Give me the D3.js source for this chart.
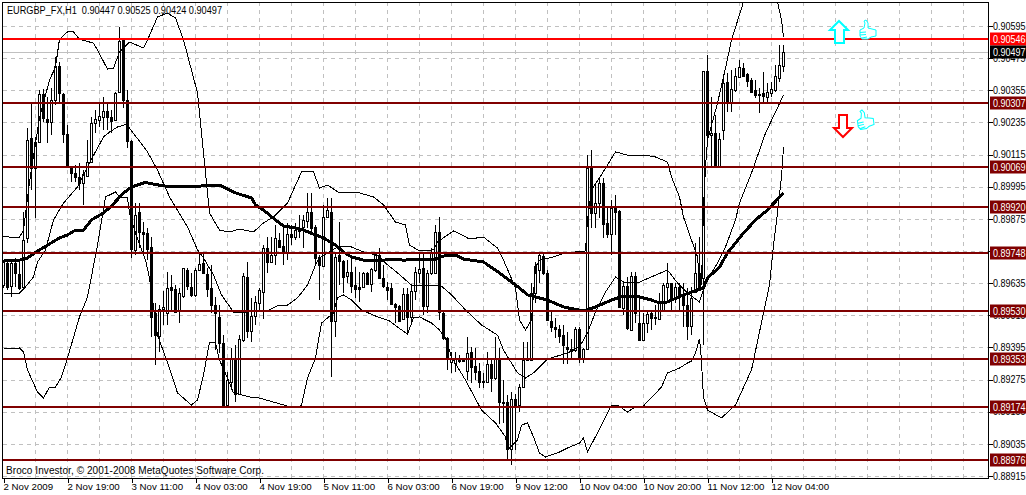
<!DOCTYPE html>
<html><head><meta charset="utf-8">
<script src="https://cdn.jsdelivr.net/npm/d3@7"></script>
<style>
html,body{margin:0;padding:0;background:#fff;overflow:hidden}
svg{display:block}
text{font-family:"Liberation Sans",Arial,sans-serif;font-size:10px;fill:#000}
</style></head><body>
<svg id="c" width="1026" height="495"></svg>
<script>
// Prices are in points (1 point = 0.00001)
const title = "EURGBP_FX,H1  0.90447 0.90525 0.90424 0.90497";
const credit = "Broco Investor, © 2001-2008 MetaQuotes Software Corp.";
const timeLabels = ["2 Nov 2009","2 Nov 19:00","3 Nov 11:00","4 Nov 03:00","4 Nov 19:00","5 Nov 11:00","6 Nov 03:00","6 Nov 19:00","9 Nov 12:00","10 Nov 04:00","10 Nov 20:00","11 Nov 12:00","12 Nov 04:00"];
const priceTicks = [90595,90475,90355,90235,90115,89995,89875,89755,89635,89515,89395,89275,89155,89035,88915];
const redLevel = [90546];
const darkLevels = [90307,90069,89920,89748,89530,89353,89174,88976];
const bidLevel = [90497];

const open = [89628,89710,89624,89710,89669,89621,89804,90177,90065,90162,
90341,90248,90237,90319,90446,90341,90192,90069,90046,90031,
90009,90035,90087,90233,90244,90255,90278,90255,90244,90349,
90543,90319,90166,89759,89901,89826,89822,89770,89524,89438,
89539,89524,89621,89613,89535,89587,89684,89621,89591,89684,
89710,89669,89617,89553,89509,89412,89180,89266,89356,89221,
89423,89658,89456,89512,89561,89602,89766,89714,89740,89796,
89774,89751,89818,89807,89841,89845,89867,89901,89845,89733,
89699,89882,89901,89494,89740,89718,89662,89677,89628,89621,
89621,89673,89632,89684,89740,89654,89621,89617,89557,89550,
89501,89595,89509,89606,89673,89692,89550,89673,89673,89826,
89524,89430,89341,89337,89352,89344,89307,89378,89326,89307,
89270,89266,89333,89281,89352,89188,89191,89016,89203,89180,
89247,89352,89348,89598,89684,89736,89673,89494,89471,89464,
89441,89397,89389,89385,89464,89356,89389,90065,89897,89934,
90009,89860,89818,89916,89904,89542,89624,89460,89662,89486,
89423,89486,89524,89509,89501,89531,89621,89636,89576,89621,
89595,89553,89475,89602,89673,89654,90427,90188,90196,90069,
90207,90386,90311,90356,90405,90438,90416,90393,90356,90341,
90345,90330,90345,90356,90401,90447];
const high = [89721,89718,89721,89729,89714,89901,90214,90307,90181,90356,
90360,90330,90364,90479,90461,90345,90225,90069,90076,90084,
90057,90169,90255,90281,90304,90330,90307,90281,90349,90591,
90546,90356,90169,89934,89934,89863,89841,89807,89561,89553,
89606,89677,89665,89628,89617,89692,89692,89673,89692,89748,
89748,89692,89703,89583,89553,89441,89303,89393,89404,89441,
89673,89714,89580,89587,89617,89777,89807,89807,89852,89822,
89852,89860,89852,89860,89889,89889,89972,89972,89852,89740,
89927,89953,89953,89748,89863,89721,89721,89729,89695,89677,
89677,89677,89692,89748,89766,89703,89639,89636,89561,89553,
89617,89617,89628,89695,89751,89748,89684,89766,89852,89882,
89527,89434,89378,89378,89367,89356,89434,89397,89393,89337,
89300,89378,89348,89434,89393,89273,89217,89229,89221,89258,
89415,89415,89636,89714,89748,89744,89684,89531,89505,89479,
89479,89453,89427,89471,89471,89393,90113,90132,90009,90028,
90028,89923,89945,89964,89908,89639,89658,89677,89677,89580,
89524,89535,89527,89553,89598,89636,89710,89636,89636,89636,
89636,89617,89621,89785,89807,90427,90487,90330,90263,90196,
90401,90420,90431,90438,90468,90457,90420,90401,90393,90364,
90423,90382,90386,90449,90524,90525];
const low = [89617,89610,89583,89621,89610,89610,89785,89983,89878,90158,
90237,90158,90188,90300,90307,90158,90065,90013,90013,89983,
89927,90031,90084,90195,90218,90207,90207,90195,90244,90345,
90289,90140,89729,89740,89766,89748,89721,89434,89329,89378,
89479,89479,89535,89527,89486,89580,89610,89583,89583,89684,
89673,89583,89524,89385,89374,89176,89176,89236,89191,89217,
89415,89430,89415,89479,89527,89501,89673,89710,89703,89766,
89703,89721,89777,89796,89804,89766,89841,89815,89703,89572,
89695,89878,89285,89434,89628,89598,89636,89598,89580,89565,
89617,89628,89602,89677,89654,89617,89572,89553,89486,89490,
89497,89449,89479,89572,89636,89516,89524,89665,89673,89497,
89423,89311,89300,89303,89337,89341,89273,89262,89273,89244,
89244,89262,89229,89273,89109,89113,88975,88956,89012,89154,
89244,89344,89348,89561,89636,89665,89497,89453,89430,89412,
89333,89333,89356,89378,89337,89337,89385,89841,89841,89878,
89804,89804,89740,89815,89542,89516,89460,89456,89486,89419,
89419,89449,89460,89479,89497,89527,89561,89527,89561,89535,
89471,89423,89441,89598,89610,89404,90158,90069,90069,90065,
90169,90274,90274,90349,90401,90405,90367,90345,90326,90270,
90307,90307,90330,90349,90386,90424];
const close = [89714,89621,89710,89673,89617,89796,90169,90065,90162,90341,
90251,90237,90319,90446,90345,90192,90069,90046,90031,90009,
90042,90087,90233,90248,90259,90278,90255,90240,90345,90539,
90319,90166,89763,89889,89826,89818,89763,89509,89441,89539,
89546,89617,89610,89527,89598,89692,89624,89591,89684,89707,
89673,89613,89553,89524,89412,89180,89273,89356,89221,89427,
89662,89456,89512,89565,89610,89766,89714,89740,89804,89770,
89751,89818,89807,89833,89830,89871,89901,89841,89729,89703,
89882,89908,89494,89733,89718,89658,89677,89624,89613,89613,
89673,89632,89688,89740,89654,89624,89610,89557,89546,89494,
89595,89509,89606,89677,89688,89550,89673,89748,89826,89527,
89430,89356,89356,89352,89344,89348,89374,89322,89303,89266,
89266,89333,89281,89352,89191,89191,89016,89203,89176,89247,
89348,89348,89598,89699,89740,89673,89497,89471,89464,89438,
89404,89389,89382,89464,89356,89389,90065,89897,89934,90009,
89856,89818,89916,89901,89546,89624,89468,89662,89524,89423,
89486,89520,89505,89505,89561,89628,89636,89576,89621,89591,
89553,89475,89580,89673,89613,90427,90188,90196,90069,90173,
90382,90307,90360,90408,90442,90408,90390,90349,90337,90337,
90334,90349,90360,90408,90449,90497];

const maBars = [0,4,6,9,14,16,18,20,22,25,27,30,32,35,36,40,44,50,54,58,62,63,65,68,70,73,75,78,80,83,85,87,90,94,97,100,108,110,113,115,120,124,127,129,131,136,140,145,148,152,155,158,162,164,166,170,175,176,179,181,185,188,191,195];
const maVals = [89721,89721,89729,89759,89804,89815,89833,89833,89871,89897,89923,89972,89994,90009,90009,89998,89994,89998,90001,89972,89953,89927,89908,89871,89848,89841,89833,89815,89804,89777,89751,89733,89721,89718,89725,89721,89725,89736,89740,89725,89714,89673,89639,89617,89591,89572,89546,89531,89546,89572,89587,89587,89572,89561,89565,89591,89617,89654,89695,89748,89822,89871,89908,89972];

const upperBars = [0,2.5,4,5,6.5,9,11.5,13,14,16,17.5,19,22.5,23.5,26,27.5,29,31.5,35,36,38.5,41,43,45,48.5,49.5,51.5,54,56.5,59,62.5,65,67.5,71,74.5,77.5,79,81,84,89,92.5,95,98,100.5,101.5,104,107.5,108.5,112.5,116.5,120,123.5,125,128,129,130.5,132,133,134,137.5,140.5,145.5,146,147,149,153,156,160.5,163,166,167,169,170,172,173.5,174,174.5,175,175.5,176,178.5,180.5,182,185,188,191,193.5,194.5,195];
const upperVals = [89811,89804,89807,89833,90013,90252,90393,90442,90546,90573,90573,90546,90531,90505,90434,90438,90498,90535,90513,90543,90629,90643,90625,90543,90345,90195,89897,89833,89826,89837,89826,89860,89882,89934,90050,90050,89990,90001,89972,89972,89957,89927,89863,89852,89777,89755,89759,89789,89830,89800,89807,89766,89721,89617,89497,89460,89497,89695,89721,89733,89748,89755,89871,89983,90028,90125,90113,90113,90106,90087,90031,89957,89882,89796,89733,89647,89628,89919,90069,90169,90307,90438,90543,90685,90823,90841,90685,90617,90554];

const lowerBars = [0,4,5,6,8.5,10,11.5,13,14.5,16,19,21,23.5,25.5,28,29,31,31.5,33,35.5,36.5,38.5,41.5,43.5,47,48.5,50,51.5,53,54,56,57.5,61.5,64,71,73.5,74.5,76,78,79.5,82.5,83.5,85,87,89.5,93.5,96.5,98.5,101,102.5,104,107,109,110.5,112,115.5,119.5,123,125.5,126,128.5,129.5,131,132.5,134,135.5,138.5,141.5,144,145,146,148.5,152,153.5,156,157.5,159.5,164.5,166,169,171,172,173,174,174.5,174.7,175,176,179.5,183,187,189,191.5,192.5,193.5,194.5,195];
const lowerVals = [89389,89393,89378,89311,89229,89206,89247,89247,89285,89356,89509,89583,89777,89957,89975,89957,89953,89897,89822,89721,89654,89441,89318,89225,89180,89199,89292,89415,89412,89348,89281,89225,89210,89206,89176,89169,89180,89281,89356,89486,89524,89580,89591,89572,89535,89509,89494,89471,89445,89505,89509,89486,89460,89430,89359,89273,89161,89113,89061,89012,89049,89105,89113,89061,89001,88986,89001,89023,89038,89057,89005,89076,89180,89180,89154,89169,89169,89247,89300,89318,89337,89344,89374,89427,89348,89281,89210,89161,89132,89180,89311,89453,89628,89777,89897,90031,90143];

const midBars = [0,4,5.5,7.5,8.5,10.5,12.5,15,18.5,21.5,25,26.5,28.5,31,31.5,36,38.5,41.5,46,48.5,50,52.5,54.5,57.5,59,66.5,68.5,71,73.5,76,78,79,81,83.5,87,90.5,93.5,95.5,98.5,102,107,109.5,112,115.5,119.5,123.5,125,128.5,130.5,132.5,136,141,144,146,148,150.5,153,155,159,163,166,168.5,171,174,175.5,178.5,180.5,183,184,187,190.5,195];
const midVals = [89598,89598,89621,89658,89714,89759,89871,89934,89994,90084,90181,90199,90218,90229,90214,90125,90057,89957,89845,89759,89729,89665,89591,89527,89524,89535,89550,89553,89580,89628,89703,89729,89748,89770,89770,89748,89740,89710,89673,89628,89628,89624,89591,89535,89479,89441,89385,89300,89281,89300,89352,89374,89397,89449,89527,89602,89658,89639,89639,89665,89684,89636,89598,89565,89636,89710,89770,89871,89934,90046,90195,90337];

[[open,high],[open,low],[open,close],[maBars,maVals],[upperBars,upperVals],[lowerBars,lowerVals],[midBars,midVals]].forEach((p,i)=>{ if(p[0].length!==p[1].length) throw new Error("length mismatch "+i+": "+p[0].length+" vs "+p[1].length); });

const plot = {l:3, t:2, r:988, b:478};
const x = d3.scaleLinear().domain([0,246]).range([3.5,987.5]);
const y = d3.scaleLinear().domain([90595,88915]).range([26,476]);
const svg = d3.select("#c");
const fmt = v => (v/1e5).toFixed(5);
const FONT = '"Liberation Sans",Arial,sans-serif';

svg.append("defs").append("clipPath").attr("id","pc").append("rect")
  .attr("x",plot.l).attr("y",plot.t).attr("width",plot.r-plot.l).attr("height",plot.b-plot.t);

// grid
const gridCols = d3.range(1,31).map(k=>k*8);
const grid = svg.append("g").attr("stroke","#c0c0c0").attr("stroke-dasharray","4 4").attr("shape-rendering","crispEdges");
grid.selectAll(".h").data(priceTicks).join("line").attr("x1",plot.l).attr("x2",plot.r)
  .attr("y1",d=>Math.round(y(d))+.5).attr("y2",d=>Math.round(y(d))+.5);
grid.selectAll(".v").data(gridCols).join("line").attr("x1",d=>x(d)).attr("x2",d=>x(d))
  .attr("y1",plot.t).attr("y2",plot.b);

// text behind the marks
svg.append("text").attr("x",7).attr("y",14).style("white-space","pre")
  .attr("textLength",215).attr("lengthAdjust","spacingAndGlyphs").text(title);
svg.append("text").attr("x",6).attr("y",474)
  .attr("textLength",258).attr("lengthAdjust","spacing").text(credit);

svg.append("line").attr("x1",plot.l).attr("x2",plot.r).attr("y1",Math.round(y(bidLevel[0]))+.5).attr("y2",Math.round(y(bidLevel[0]))+.5).attr("stroke","#c0c0c0").attr("shape-rendering","crispEdges");

const chart = svg.append("g").attr("clip-path","url(#pc)").attr("shape-rendering","crispEdges");
const idx = d3.range(open.length);
chart.append("g").selectAll("line").data(idx).join("line")
  .attr("x1",i=>x(i)).attr("x2",i=>x(i)).attr("y1",i=>y(high[i])).attr("y2",i=>y(low[i])).attr("stroke","#000");
chart.append("g").selectAll("rect").data(idx).join("rect")
  .attr("x",i=>x(i)-1).attr("width",2)
  .attr("y",i=>Math.round(y(Math.max(open[i],close[i])))+.5)
  .attr("height",i=>Math.max(1,Math.round(y(Math.min(open[i],close[i])))-Math.round(y(Math.max(open[i],close[i])))))
  .attr("fill",i=>close[i]>=open[i]?"#fff":"#000").attr("stroke","#000");

const lineGen = (bars,vals)=>d3.line().x((d,i)=>x(bars[i])).y(d=>y(d))(vals);
[[upperBars,upperVals],[lowerBars,lowerVals],[midBars,midVals]].forEach(([b,v])=>{
  chart.append("path").attr("d",lineGen(b,v)).attr("fill","none").attr("stroke","#000").attr("stroke-width",1);
});
chart.append("path").attr("d",lineGen(maBars,maVals)).attr("fill","none").attr("stroke","#000").attr("stroke-width",3)
  .attr("stroke-linejoin","round");

// level lines
svg.append("g").attr("shape-rendering","crispEdges").selectAll("line")
  .data([...redLevel.map(v=>[v,"#ff0000"]),...darkLevels.map(v=>[v,"#800000"])]).join("line")
  .attr("x1",plot.l).attr("x2",plot.r).attr("y1",d=>Math.round(y(d[0]))).attr("y2",d=>Math.round(y(d[0])))
  .attr("stroke",d=>d[1]).attr("stroke-width",2);

// frame
svg.append("rect").attr("x",plot.l-.5).attr("y",plot.t+.5).attr("width",plot.r-plot.l+1).attr("height",plot.b-plot.t)
  .attr("fill","none").attr("stroke","#000").attr("shape-rendering","crispEdges");

// axes
const yAxis = d3.axisRight(y).tickValues(priceTicks).tickFormat(fmt).tickSize(4).tickPadding(2);
const gy = svg.append("g").attr("transform",`translate(${plot.r+.5},0)`).call(yAxis);
gy.select(".domain").remove();
gy.selectAll("text").attr("x",4.5).attr("textLength",32.5).attr("lengthAdjust","spacingAndGlyphs").style("font-family",FONT).style("font-size","10px");
const xAxis = d3.axisBottom(x).tickValues(timeLabels.map((d,i)=>i*16)).tickFormat((d,i)=>timeLabels[i]).tickSize(4);
const gx = svg.append("g").attr("transform",`translate(0,${plot.b+.5})`).call(xAxis);
gx.select(".domain").remove();
gx.selectAll("text").attr("text-anchor","start").attr("x",-0.5).attr("y",5).style("font-family",FONT).style("font-size","9.7px");
svg.selectAll(".tick line").attr("shape-rendering","crispEdges").attr("stroke","#000");

// price tags
const tags = [...redLevel.map(v=>[v,"#ff0000"]),...bidLevel.map(v=>[v,"#000000"]),...darkLevels.map(v=>[v,"#800000"])];
const tg = svg.append("g").selectAll("g").data(tags).join("g").attr("transform",d=>`translate(990,${Math.round(y(d[0]))})`);
tg.append("rect").attr("x",0).attr("y",-6.5).attr("width",36).attr("height",13).attr("fill",d=>d[1]);
tg.append("text").attr("x",3).attr("y",3.5).attr("textLength",32.5).attr("lengthAdjust","spacingAndGlyphs").style("fill","#fff").text(d=>fmt(d[0]));

// arrows and hands
const arrows = svg.append("g").attr("fill","#fff").attr("stroke-width",2).attr("stroke-linejoin","miter");
arrows.append("path").attr("stroke","#00ffff")
  .attr("d",d3.line()([[839,21],[848,30],[844,30],[844,43],[835,43],[835,30],[830,30]])+"Z");
arrows.append("path").attr("stroke","#ff0000")
  .attr("d",d3.line()([[839,115],[847,115],[847,128],[852,128],[843,137],[834,128],[839,128]])+"Z");
const handPath = "M1 10 L5 8 L6 3 L5 1 L7 0 L9 3 L9 8 L13 9 L17 10 L17 16 L12 17 L9 19 L3 19 L1 16 Z M1 12.5 L7 12 M1 15 L7 14.5 M3 18 L8 17";
const hands = svg.append("g").attr("fill","#fff").attr("stroke","#00ffff").attr("stroke-width",1);
hands.append("path").attr("d",handPath).attr("transform","translate(859,20)");
hands.append("path").attr("d",handPath).attr("transform","translate(855,111) rotate(-8)");
</script>
</body></html>
